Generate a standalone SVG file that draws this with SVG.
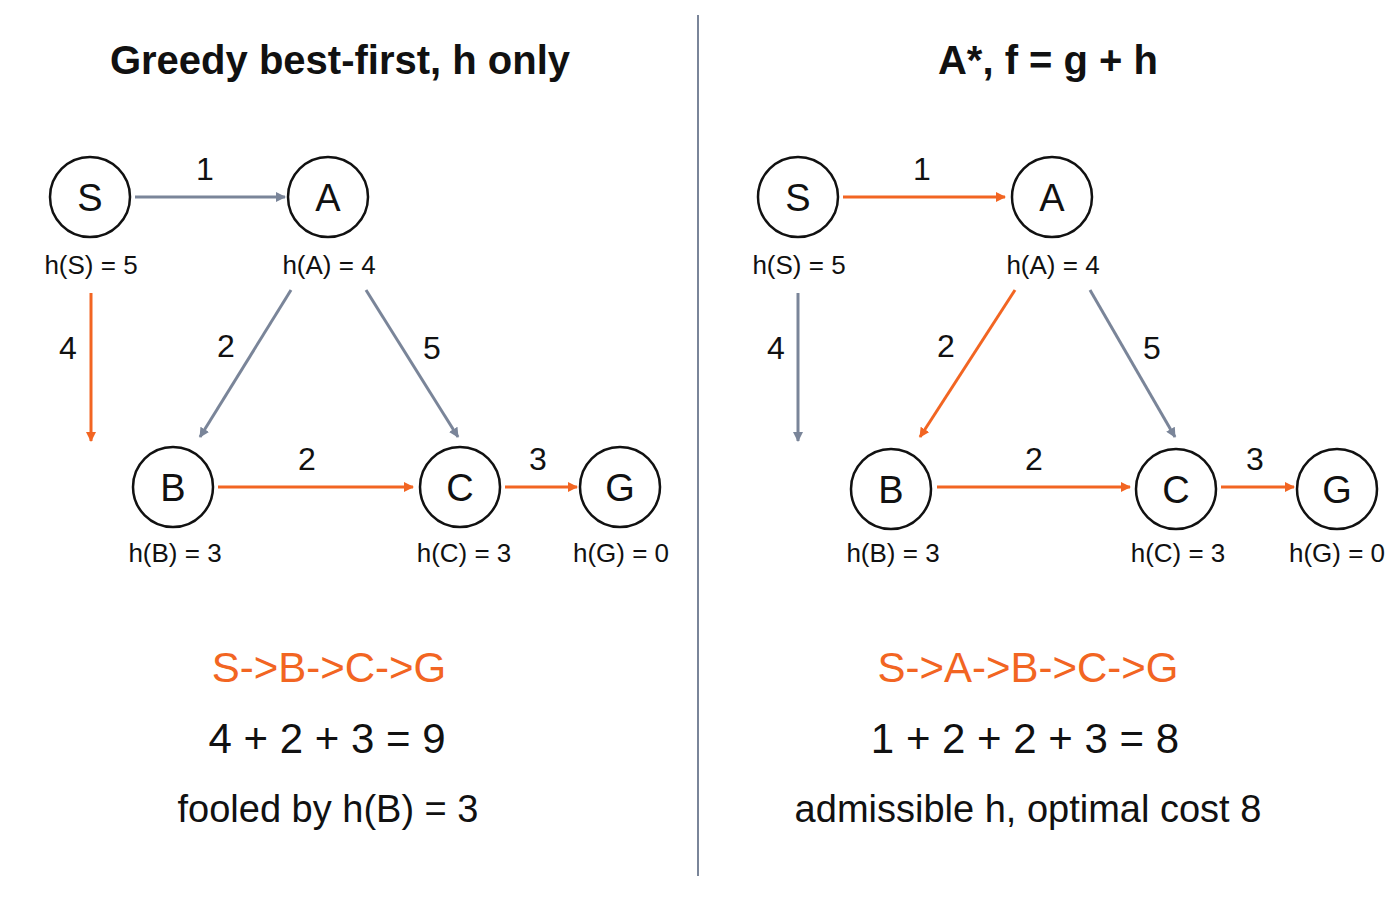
<svg xmlns="http://www.w3.org/2000/svg" width="1400" height="900" viewBox="0 0 1400 900">
<style>
text{font-family:"Liberation Sans",Arial,sans-serif;fill:#111;text-anchor:middle}
.t{font-size:40px;font-weight:bold}
.n{font-size:38px}
.h{font-size:26px}
.w{font-size:32px}
.p{font-size:42px;fill:#f26522}
.s{font-size:42px}
.c{font-size:38px}
circle{fill:#fff;stroke:#111;stroke-width:2.5}
.g{stroke:#7a8599;stroke-width:3;fill:none;marker-end:url(#ag)}
.o{stroke:#f26522;stroke-width:3;fill:none;marker-end:url(#ao)}
</style>
<defs>
<marker id="ag" markerWidth="10" markerHeight="10" refX="9" refY="5" orient="auto" markerUnits="userSpaceOnUse" viewBox="0 0 10 10"><path d="M0,0L10,5L0,10z" fill="#7a8599"/></marker>
<marker id="ao" markerWidth="10" markerHeight="10" refX="9" refY="5" orient="auto" markerUnits="userSpaceOnUse" viewBox="0 0 10 10"><path d="M0,0L10,5L0,10z" fill="#f26522"/></marker>
</defs>
<rect width="1400" height="900" fill="#fff"/>
<line x1="698" y1="15" x2="698" y2="876" stroke="#7a8599" stroke-width="2"/>
<text class="t" x="340" y="74">Greedy best-first, h only</text>
<text class="t" x="1048" y="74">A*, f = g + h</text>
<g id="connectors">
<path class="g" d="M135,197H285"/><text class="w" x="205" y="180">1</text>
<path class="o" d="M91,293V441"/><text class="w" x="68" y="359">4</text>
<path class="g" d="M291,290L200,437"/><text class="w" x="226" y="357">2</text>
<path class="g" d="M366,290L458,437"/><text class="w" x="432" y="359">5</text>
<path class="o" d="M218,487H413"/><text class="w" x="307" y="470">2</text>
<path class="o" d="M505,487H577"/><text class="w" x="538" y="470">3</text>
<path class="o" d="M843,197H1005"/><text class="w" x="922" y="180">1</text>
<path class="g" d="M798,293V441"/><text class="w" x="776" y="359">4</text>
<path class="o" d="M1015,290L920,437"/><text class="w" x="946" y="357">2</text>
<path class="g" d="M1090,290L1175,437"/><text class="w" x="1152" y="359">5</text>
<path class="o" d="M937,487H1130"/><text class="w" x="1034" y="470">2</text>
<path class="o" d="M1221,487H1294"/><text class="w" x="1255" y="470">3</text>
</g>
<g id="L-S"><circle cx="90" cy="197" r="40"/><text class="n" x="90" y="211">S</text><text class="h" x="91" y="274">h(S) = 5</text></g>
<g id="L-A"><circle cx="328" cy="197" r="40"/><text class="n" x="328" y="211">A</text><text class="h" x="329" y="274">h(A) = 4</text></g>
<g id="L-B"><circle cx="173" cy="487" r="40"/><text class="n" x="173" y="501">B</text><text class="h" x="175" y="562">h(B) = 3</text></g>
<g id="L-C"><circle cx="460" cy="487" r="40"/><text class="n" x="460" y="501">C</text><text class="h" x="464" y="562">h(C) = 3</text></g>
<g id="L-G"><circle cx="620" cy="487" r="40"/><text class="n" x="620" y="501">G</text><text class="h" x="621" y="562">h(G) = 0</text></g>
<g id="R-S"><circle cx="798" cy="197" r="40"/><text class="n" x="798" y="211">S</text><text class="h" x="799" y="274">h(S) = 5</text></g>
<g id="R-A"><circle cx="1052" cy="197" r="40"/><text class="n" x="1052" y="211">A</text><text class="h" x="1053" y="274">h(A) = 4</text></g>
<g id="R-B"><circle cx="891" cy="489" r="40"/><text class="n" x="891" y="503">B</text><text class="h" x="893" y="562">h(B) = 3</text></g>
<g id="R-C"><circle cx="1176" cy="489" r="40"/><text class="n" x="1176" y="503">C</text><text class="h" x="1178" y="562">h(C) = 3</text></g>
<g id="R-G"><circle cx="1337" cy="489" r="40"/><text class="n" x="1337" y="503">G</text><text class="h" x="1337" y="562">h(G) = 0</text></g>
<text class="p" x="329" y="682">S-&gt;B-&gt;C-&gt;G</text>
<text class="s" x="327" y="753">4 + 2 + 3 = 9</text>
<text class="c" x="328" y="822">fooled by h(B) = 3</text>
<text class="p" x="1028" y="682">S-&gt;A-&gt;B-&gt;C-&gt;G</text>
<text class="s" x="1025" y="753">1 + 2 + 2 + 3 = 8</text>
<text class="c" x="1028" y="822">admissible h, optimal cost 8</text>
</svg>
